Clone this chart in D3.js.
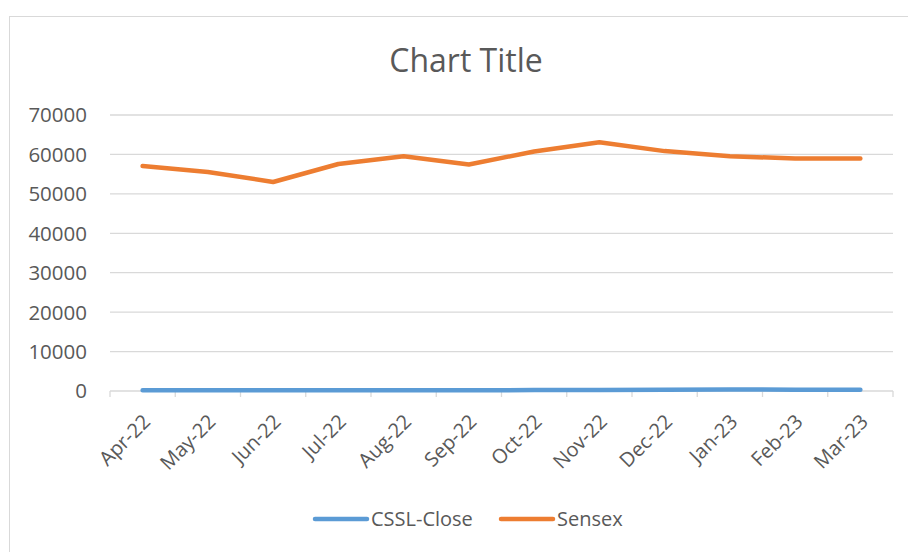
<!doctype html>
<html>
<head>
    <script src="https://d3js.org/d3.v7.min.js"></script>
    <style>
        body { margin: 0; background: #fff; }
        text { font-family: "Open Sans", sans-serif; fill: #595959; }
    </style>
</head>
<body>
    <svg width="908" height="552"></svg>
    <script>
        var months = ["Apr-22", "May-22", "Jun-22", "Jul-22", "Aug-22", "Sep-22",
                      "Oct-22", "Nov-22", "Dec-22", "Jan-23", "Feb-23", "Mar-23"];
        var csslClose = [180, 170, 160, 190, 210, 200, 230, 260, 300, 380, 330, 300];
        var sensex = [57060, 55566, 53018, 57570, 59537, 57426, 60746, 63099, 60840, 59549, 58962, 58991];
        var yTicks = [0, 10000, 20000, 30000, 40000, 50000, 60000, 70000];

        var series = [
            {name: "CSSL-Close", values: csslClose, color: "#5b9bd5"},
            {name: "Sensex", values: sensex, color: "#ed7d31"}
        ];

        var svg = d3.select("svg");

        // chart area border
        svg.append("rect")
            .attr("x", 9.5).attr("y", 16.5)
            .attr("width", 920).attr("height", 560)
            .attr("fill", "none")
            .attr("stroke", "#d9d9d9");

        svg.append("text")
            .attr("x", 466).attr("y", 72)
            .attr("text-anchor", "middle")
            .attr("font-size", "32px")
            .text("Chart Title");

        var x = d3.scaleBand().domain(months).range([110, 893]);
        var y = d3.scaleLinear().domain([0, 70000]).range([391, 115]);

        // gridlines
        svg.append("g").selectAll("line")
            .data(yTicks.slice(1))
            .enter().append("line")
            .attr("x1", 110).attr("x2", 893)
            .attr("y1", d => y(d)).attr("y2", d => y(d))
            .attr("stroke", "#d9d9d9").attr("stroke-width", 1.3);

        // y labels
        svg.append("g").selectAll("text")
            .data(yTicks)
            .enter().append("text")
            .attr("x", 87).attr("y", d => y(d))
            .attr("dy", "0.36em")
            .attr("text-anchor", "end")
            .attr("font-size", "20.5px")
            .text(d => d);

        // x axis
        var xAxis = svg.append("g")
            .attr("transform", "translate(0," + y(0) + ")")
            .call(d3.axisBottom(x).tickSize(6).tickSizeOuter(0).tickFormat(""));
        xAxis.select(".domain").remove();
        xAxis.selectAll(".tick line").remove();
        xAxis.append("line")
            .attr("x1", 110).attr("x2", 893)
            .attr("stroke", "#d9d9d9").attr("stroke-width", 1.3);
        var tickPos = months.map(m => x(m)).concat([893]);
        xAxis.selectAll(".edge").data(tickPos).enter().append("line")
            .attr("x1", d => d).attr("x2", d => d)
            .attr("y1", 0).attr("y2", 6)
            .attr("stroke", "#d9d9d9").attr("stroke-width", 1.3);

        svg.append("g").selectAll("text")
            .data(months)
            .enter().append("text")
            .attr("transform", d => "translate(" + (x(d) + x.bandwidth() / 2 + 4) + "," + (y(0) + 27) + ") rotate(-45)")
            .attr("text-anchor", "end")
            .attr("dy", "0.35em")
            .attr("font-size", "20px")
            .text(d => d);

        var line = d3.line()
            .x((d, i) => x(months[i]) + x.bandwidth() / 2)
            .y(d => y(d));

        svg.append("g").selectAll("path")
            .data(series)
            .enter().append("path")
            .attr("d", d => line(d.values))
            .attr("fill", "none")
            .attr("stroke", d => d.color)
            .attr("stroke-width", 4.5)
            .attr("stroke-linecap", "round")
            .attr("stroke-linejoin", "round");

        // legend
        var legend = svg.append("g").selectAll("g")
            .data(series)
            .enter().append("g")
            .attr("transform", (d, i) => "translate(" + [315, 501][i] + ",519)");
        legend.append("line")
            .attr("x1", 0).attr("x2", 52)
            .attr("stroke", d => d.color)
            .attr("stroke-width", 4.5)
            .attr("stroke-linecap", "round");
        legend.append("text")
            .attr("x", 56).attr("dy", "0.35em")
            .attr("font-size", "20px")
            .text(d => d.name);
    </script>
</body>
</html>
